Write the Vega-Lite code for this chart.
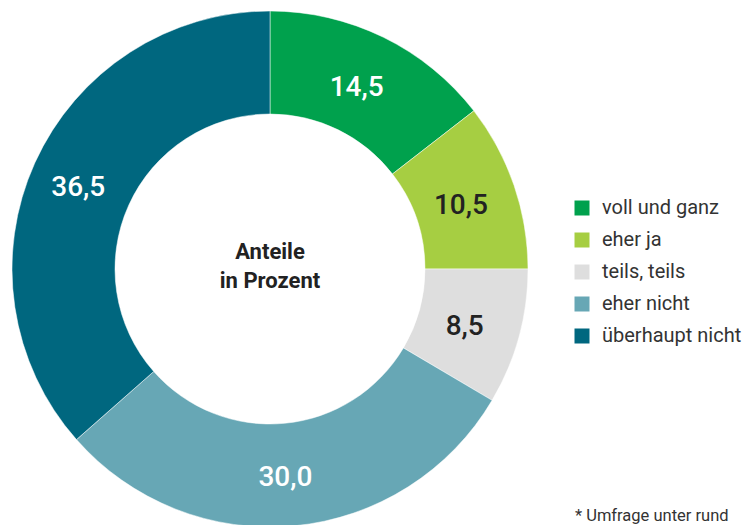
{
  "$schema": "https://vega.github.io/schema/vega-lite/v6.json",
  "width": 540,
  "height": 538,
  "padding": 0,
  "background": "white",
  "config": {
    "view": {"stroke": null},
    "font": "Roboto",
    "locale": {"number": {"decimal": ",", "thousands": ".", "grouping": [3], "currency": ["", " €"]}}
  },
  "title": {
    "text": "* Umfrage unter rund",
    "orient": "bottom",
    "anchor": "end",
    "frame": "group",
    "align": "left",
    "baseline": "middle",
    "offset": 0,
    "dx": 35,
    "dy": -22,
    "fontSize": 16.5,
    "fontWeight": "normal",
    "color": "#333333",
    "font": "Roboto"
  },
  "data": {
    "values": [
      {"Antwort": "voll und ganz", "Anteil": 14.5, "order": 1},
      {"Antwort": "eher ja", "Anteil": 10.5, "order": 2},
      {"Antwort": "teils, teils", "Anteil": 8.5, "order": 3},
      {"Antwort": "eher nicht", "Anteil": 30.0, "order": 4},
      {"Antwort": "überhaupt nicht", "Anteil": 36.5, "order": 5}
    ]
  },
  "encoding": {
    "theta": {"field": "Anteil", "type": "quantitative", "stack": true},
    "order": {"field": "order", "type": "quantitative", "sort": "ascending"}
  },
  "layer": [
    {
      "mark": {"type": "arc", "outerRadius": 258, "innerRadius": 155, "stroke": "white", "strokeWidth": 0.5},
      "encoding": {
        "color": {
          "field": "Antwort",
          "type": "nominal",
          "scale": {
            "domain": ["voll und ganz", "eher ja", "teils, teils", "eher nicht", "überhaupt nicht"],
            "range": ["#00A14D", "#A6CE42", "#DEDEDE", "#67A7B5", "#00677F"]
          },
          "legend": {
            "title": null,
            "orient": "none",
            "legendX": 572,
            "legendY": 198,
            "symbolType": "square",
            "symbolSize": 225,
            "symbolStrokeWidth": 0,
            "labelFontSize": 20,
            "labelColor": "#333333",
            "labelFont": "Roboto",
            "labelOffset": 10,
            "rowPadding": 12,
            "labelLimit": 300
          }
        }
      }
    },
    {
      "mark": {"type": "text", "radius": 206, "dx": -4, "dy": 4, "fontSize": 28, "fontWeight": 500, "font": "Roboto"},
      "encoding": {
        "text": {"field": "Anteil", "type": "quantitative", "format": ".1f"},
        "color": {
          "condition": {"test": "datum.Antwort === 'eher ja' || datum.Antwort === 'teils, teils'", "value": "#222222"},
          "value": "#ffffff"
        }
      }
    },
    {
      "data": {"values": [{"beschriftung": "Anteile\nin Prozent"}]},
      "mark": {"type": "text", "lineBreak": "\n", "lineHeight": 29, "fontSize": 22, "fontWeight": "bold", "color": "#222222", "font": "Roboto", "baseline": "middle", "dy": -17},
      "encoding": {
        "text": {"field": "beschriftung", "type": "nominal"},
        "theta": null,
        "order": null
      }
    }
  ]
}
